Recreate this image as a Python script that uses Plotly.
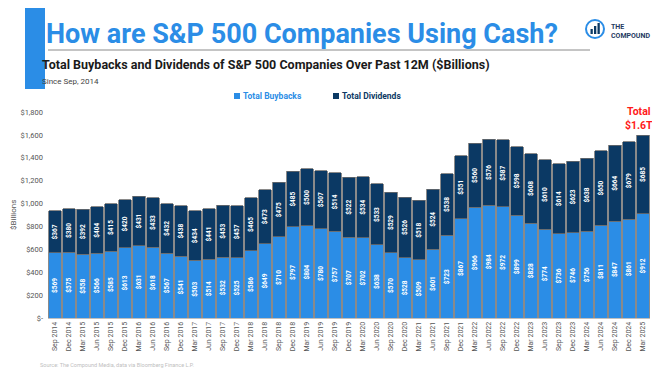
import plotly.graph_objects as go

quarter_labels = [
    "Sep 2014", "Dec 2014",
    "Mar 2015", "Jun 2015", "Sep 2015", "Dec 2015",
    "Mar 2016", "Jun 2016", "Sep 2016", "Dec 2016",
    "Mar 2017", "Jun 2017", "Sep 2017", "Dec 2017",
    "Mar 2018", "Jun 2018", "Sep 2018", "Dec 2018",
    "Mar 2019", "Jun 2019", "Sep 2019", "Dec 2019",
    "Mar 2020", "Jun 2020", "Sep 2020", "Dec 2020",
    "Mar 2021", "Jun 2021", "Sep 2021", "Dec 2021",
    "Mar 2022", "Jun 2022", "Sep 2022", "Dec 2022",
    "Mar 2023", "Jun 2023", "Sep 2023", "Dec 2023",
    "Mar 2024", "Jun 2024", "Sep 2024", "Dec 2024",
    "Mar 2025",
]
buybacks = [
    569, 575,
    558, 566, 585, 613,
    631, 618, 567, 541,
    503, 514, 532, 525,
    586, 649, 710, 797,
    804, 780, 757, 707,
    702, 638, 570, 528,
    509, 601, 723, 867,
    966, 984, 972, 899,
    828, 774, 736, 746,
    756, 811, 847, 861,
    912,
]
dividends = [
    367, 380,
    392, 404, 415, 420,
    431, 433, 432, 438,
    434, 441, 453, 457,
    465, 473, 475, 485,
    500, 507, 514, 522,
    534, 533, 529, 526,
    518, 524, 538, 551,
    560, 576, 587, 598,
    608, 610, 614, 623,
    638, 650, 664, 679,
    685,
]
y_ticks = [0, 200, 400, 600, 800, 1000, 1200, 1400, 1600, 1800]
y_tick_text = ["$-", "$200", "$400", "$600", "$800", "$1,000", "$1,200", "$1,400", "$1,600", "$1,800"]

BLUE = "#2b8de6"
NAVY = "#0b3964"
FONT = "Roboto"

# The page body has an 8px margin on every side, so the figure is drawn
# 16px smaller (no overflow / scrollbars); positions below are page pixels.
OFF = 8
W, H = 660 - 2 * OFF, 377 - 2 * OFF
ML = 48 - OFF
MR = W - (650 - OFF)
MT = 112 - OFF
MB = H - (318 - OFF)
PW = W - ML - MR
PH = H - MT - MB


def px(x):
    return (x - OFF - ML) / PW


def py(y):
    return (H - MB - (y - OFF)) / PH


fig = go.Figure()
fig.add_trace(go.Bar(
    x=quarter_labels, y=buybacks, name="Total Buybacks",
    marker=dict(color=BLUE, line=dict(color="#6d6d6d", width=0.8)),
    texttemplate="<b>$%{y:.0f}</b>", textposition="inside", textangle=-90,
    insidetextanchor="middle",
    textfont=dict(color="white", size=6.5, family=FONT),
))
fig.add_trace(go.Bar(
    x=quarter_labels, y=dividends, name="Total Dividends",
    marker=dict(color=NAVY, line=dict(color="#6d6d6d", width=0.8)),
    texttemplate="<b>$%{y:.0f}</b>", textposition="inside", textangle=-90,
    insidetextanchor="middle",
    textfont=dict(color="white", size=6.5, family=FONT),
))

totals = [b + d for b, d in zip(buybacks, dividends)]
fig.add_annotation(
    x=quarter_labels[-1], y=totals[-1], yshift=1, xshift=-4,
    text="<b>Total<br>$1.6T</b>", showarrow=False, yanchor="bottom",
    font=dict(color="#ff1a1a", size=10.5, family=FONT), align="center",
)

# header decoration
shapes = [
    dict(type="rect", xref="paper", yref="paper", x0=px(25), x1=px(45), y0=py(89), y1=py(8),
         fillcolor=BLUE, line=dict(width=0), layer="above"),
    dict(type="line", xref="paper", yref="paper", x0=px(48), x1=px(590), y0=py(50), y1=py(50),
         line=dict(color="#8a8a8a", width=1)),
    dict(type="circle", xref="paper", yref="paper", x0=px(586), x1=px(604), y0=py(38), y1=py(20),
         line=dict(color=BLUE, width=2)),
    # legend swatches
    dict(type="rect", xref="paper", yref="paper", x0=px(234), x1=px(240), y0=py(99), y1=py(93),
         fillcolor=BLUE, line=dict(width=0)),
    dict(type="rect", xref="paper", yref="paper", x0=px(333), x1=px(339), y0=py(99), y1=py(93),
         fillcolor=NAVY, line=dict(width=0)),
]
for bx, bh in [(590.5, 5), (594, 8), (597.5, 11)]:
    shapes.append(dict(type="rect", xref="paper", yref="paper", x0=px(bx), x1=px(bx + 2.3),
                       y0=py(34), y1=py(34 - bh), fillcolor=NAVY, line=dict(width=0)))

annotations = [
    dict(text="<b>How are S&P 500 Companies Using Cash?</b>", xref="paper", yref="paper",
         x=px(44), y=py(34), xanchor="left", yanchor="middle", showarrow=False,
         font=dict(color=BLUE, size=27, family=FONT)),
    dict(text="<b>Total Buybacks and Dividends of S&P 500 Companies Over Past 12M ($Billions)</b>",
         xref="paper", yref="paper", x=px(40), y=py(64), xanchor="left", yanchor="middle",
         showarrow=False, font=dict(color="#1a1a1a", size=12.5, family=FONT)),
    dict(text="Since Sep, 2014", xref="paper", yref="paper", x=px(40), y=py(81),
         xanchor="left", yanchor="middle", showarrow=False,
         font=dict(color="#444444", size=8, family=FONT)),
    dict(text="<b>THE<br>COMPOUND</b>", xref="paper", yref="paper", x=px(609), y=py(32),
         xanchor="left", yanchor="middle", showarrow=False, align="left",
         font=dict(color="#1f3a5f", size=7, family=FONT)),
    dict(text="<b>Total Buybacks</b>", xref="paper", yref="paper", x=px(241), y=py(96),
         xanchor="left", yanchor="middle", showarrow=False,
         font=dict(color=BLUE, size=8.5, family=FONT)),
    dict(text="<b>Total Dividends</b>", xref="paper", yref="paper", x=px(340), y=py(96),
         xanchor="left", yanchor="middle", showarrow=False,
         font=dict(color=NAVY, size=8.5, family=FONT)),
    dict(text="$Billions", xref="paper", yref="paper", x=px(13), y=py(215), textangle=-90,
         xanchor="center", yanchor="middle", showarrow=False,
         font=dict(color="#555555", size=8, family=FONT)),
    dict(text="Source: The Compound Media, data via Bloomberg Finance L.P.", xref="paper", yref="paper",
         x=px(38), y=py(365), xanchor="left", yanchor="middle", showarrow=False,
         font=dict(color="#c0c0c0", size=5.5, family=FONT)),
]
for a in annotations:
    fig.add_annotation(**a)

fig.update_layout(
    width=W, height=H,
    margin=dict(l=ML, r=MR, t=MT, b=MB, autoexpand=False),
    barmode="stack", bargap=0.14,
    plot_bgcolor="white", paper_bgcolor="white",
    font=dict(family=FONT, color="#555555"),
    uniformtext=dict(minsize=6, mode="show"),
    shapes=shapes,
    showlegend=False,
    xaxis=dict(type="category", tickangle=-90, tickfont=dict(size=7, color="#555555"),
               range=[-0.5, len(quarter_labels) - 0.5],
               showgrid=False, showline=True, linecolor="#bfbfbf", ticks="", automargin=False),
    yaxis=dict(range=[0, 1800], tickvals=y_ticks, ticktext=y_tick_text, showgrid=False,
               tickfont=dict(size=7.5, color="#555555"), zeroline=False, automargin=False,
               ticklabelstandoff=4),
)

fig.write_html("out.html")
